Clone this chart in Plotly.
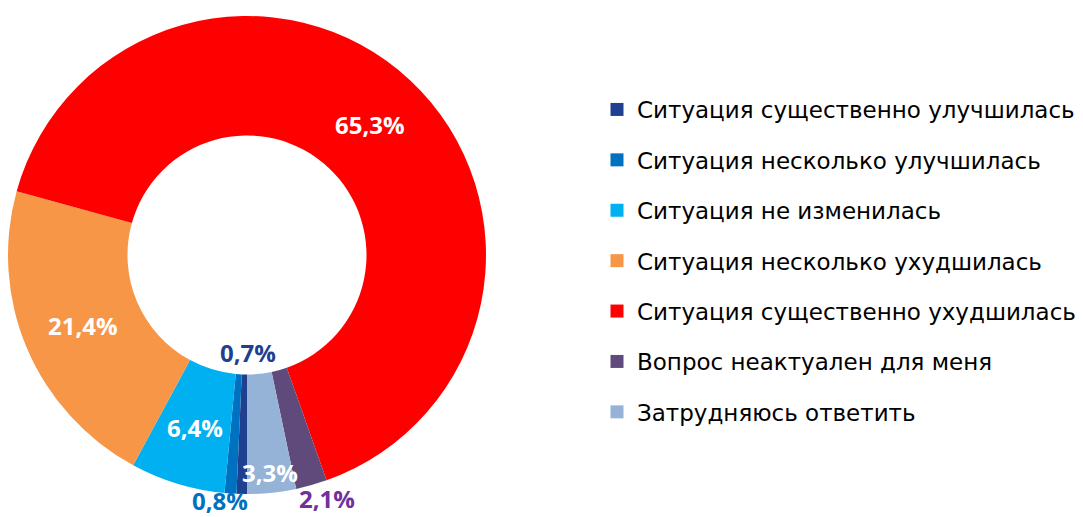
import plotly.graph_objects as go

categories = [
    "Ситуация существенно улучшилась",
    "Ситуация несколько улучшилась",
    "Ситуация не изменилась",
    "Ситуация несколько ухудшилась",
    "Ситуация существенно ухудшилась",
    "Вопрос неактуален для меня",
    "Затрудняюсь ответить",
]
values = [0.7, 0.8, 6.4, 21.4, 65.3, 2.1, 3.3]
value_labels = ["0,7%", "0,8%", "6,4%", "21,4%", "65,3%", "2,1%", "3,3%"]
colors = ["#1F3F8F", "#0070C0", "#00B0F0", "#F79646", "#FF0000", "#604A7B", "#95B3D7"]
label_colors = ["#1F3F8F", "#0070C0", "#FFFFFF", "#FFFFFF", "#FFFFFF", "#7030A0", "#FFFFFF"]
# label anchor positions in window pixels (x from left, y from top)
label_px = [(248, 352), (220, 500), (195, 427), (83, 325), (370, 125), (327, 498), (270, 472)]

# the page body has an 8px margin, so the figure is placed at (8, 8)
OFF = 8
W, H = 1083 - OFF, 517 - OFF


def fx(px):
    return (px - OFF) / W


def fy(py):
    return 1 - (py - OFF) / H


fig = go.Figure()
fig.add_trace(go.Pie(
    labels=categories,
    values=values,
    hole=0.5,
    sort=False,
    direction="clockwise",
    rotation=180,
    marker=dict(colors=colors, line=dict(width=0)),
    textinfo="none",
    hoverinfo="label+percent",
    showlegend=False,
    domain=dict(x=[fx(8), fx(486)], y=[fy(494), fy(16)]),
))

for i, (name, col) in enumerate(zip(categories, colors)):
    fig.add_trace(go.Scatter(
        x=[None], y=[None], mode="markers", name=name,
        legendgroup=f"g{i}",
        marker=dict(symbol="square", size=13, color=col, line=dict(width=0)),
    ))

for txt, col, (px, py) in zip(value_labels, label_colors, label_px):
    fig.add_annotation(
        x=fx(px), y=fy(py), xref="paper", yref="paper",
        text=txt, showarrow=False,
        font=dict(family="Open Sans", size=24, color=col, weight="bold"),
        xanchor="center", yanchor="middle",
        borderpad=0,
    )

fig.update_layout(
    width=W, height=H,
    margin=dict(l=0, r=0, t=0, b=0),
    paper_bgcolor="white",
    plot_bgcolor="white",
    xaxis=dict(visible=False),
    yaxis=dict(visible=False),
    legend=dict(
        x=fx(597), y=fy(88), xanchor="left", yanchor="top",
        font=dict(family="DejaVu Sans", size=23, color="#000000"),
        tracegroupgap=17.5,
        itemclick=False,
        bgcolor="rgba(0,0,0,0)",
    ),
)

fig.write_html("out.html")
